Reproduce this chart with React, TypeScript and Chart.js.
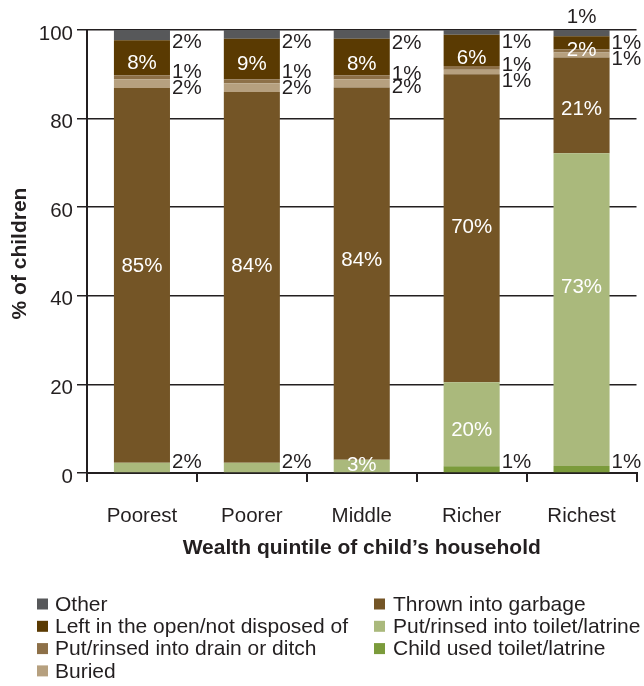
import React, { useEffect, useRef } from 'react';
import { Chart, registerables } from 'chart.js';

Chart.register(...registerables);

const FONT = '"Liberation Sans", Arial, Helvetica, sans-serif';
const DARK = '#231f20';

const categories = ['Poorest', 'Poorer', 'Middle', 'Richer', 'Richest'];
const yTicks = [0, 20, 40, 60, 80, 100];

// Series values (% of children), bottom of the stack first
const childUsed = [0, 0, 0, 1.5, 1.6];
const toilet = [2.3, 2.3, 3.0, 19.0, 70.6];
const garbage = [84.6, 83.7, 84.0, 69.5, 21.6];
const buried = [2.0, 2.0, 1.9, 1.0, 1.1];
const drain = [0.9, 0.9, 0.9, 0.9, 0.7];
const openAir = [7.9, 9.1, 8.2, 7.0, 3.0];
const other = [2.3, 2.0, 2.0, 1.1, 1.4];

// Printed value labels
const childUsedLabels = ['', '', '', '1%', '1%'];
const toiletLabels = ['2%', '2%', '3%', '20%', '73%'];
const garbageLabels = ['85%', '84%', '84%', '70%', '21%'];
const buriedLabels = ['2%', '2%', '2%', '1%', '1%'];
const drainLabels = ['1%', '1%', '1%', '1%', '1%'];
const openLabels = ['8%', '9%', '8%', '6%', '2%'];
const otherLabels = ['2%', '2%', '2%', '1%', '1%'];

type Series = {
  name: string;
  data: number[];
  labels: string[];
  color: string;
  place: string[];
  dy: number[];
};

const series: Series[] = [
  { name: 'Child used toilet/latrine', data: childUsed, labels: childUsedLabels, color: '#7b9b3b',
    place: ['r', 'r', 'r', 'r', 'r'], dy: [0, 0, 0, -6.5, -6.5] },
  { name: 'Put/rinsed into toilet/latrine', data: toilet, labels: toiletLabels, color: '#aab97c',
    place: ['r', 'r', 'in', 'in', 'in'], dy: [-5.5, -5.5, -1, 6, -22.5] },
  { name: 'Thrown into garbage', data: garbage, labels: garbageLabels, color: '#745526',
    place: ['in', 'in', 'in', 'in', 'in'], dy: [-9.5, -11.5, -13.5, -1, 4.5] },
  { name: 'Buried', data: buried, labels: buriedLabels, color: '#b6a07f',
    place: ['r', 'r', 'r', 'r', 'r'], dy: [4.5, 1, 4, 9.5, 4.5] },
  { name: 'Put/rinsed into drain or ditch', data: drain, labels: drainLabels, color: '#8d7048',
    place: ['r', 'r', 'r', 'r', 'r'], dy: [-4.5, -8.5, -3, -2.5, -8] },
  { name: 'Left in the open/not disposed of', data: openAir, labels: openLabels, color: '#5a3a02',
    place: ['in', 'in', 'in', 'in', 'in'], dy: [6, 5, 7, 7.5, 7] },
  { name: 'Other', data: other, labels: otherLabels, color: '#57585a',
    place: ['r', 'r', 'r', 'r', 't'], dy: [7.5, 8, 8.5, 10, -12.5] },
];

const legendCol1 = ['Other', 'Left in the open/not disposed of', 'Put/rinsed into drain or ditch', 'Buried'];
const legendCol2 = ['Thrown into garbage', 'Put/rinsed into toilet/latrine', 'Child used toilet/latrine'];

const labelPlugin = {
  id: 'segLabels',
  afterDatasetsDraw(chart: any) {
    const ctx = chart.ctx as CanvasRenderingContext2D;
    ctx.save();
    ctx.font = `20.5px ${FONT}`;
    ctx.textBaseline = 'middle';
    series.forEach((s, i) => {
      const meta = chart.getDatasetMeta(i);
      meta.data.forEach((el: any, j: number) => {
        const text = s.labels[j];
        if (!text) return;
        const p = el.getProps(['x', 'y', 'base', 'width'], true);
        const mid = (p.y + p.base) / 2;
        const mode = s.place[j];
        if (mode === 'in') {
          ctx.fillStyle = '#ffffff';
          ctx.textAlign = 'center';
          ctx.fillText(text, p.x, mid + s.dy[j]);
        } else if (mode === 'r') {
          ctx.fillStyle = DARK;
          ctx.textAlign = 'left';
          ctx.fillText(text, p.x + p.width / 2 + 2, mid + s.dy[j]);
        } else {
          ctx.fillStyle = DARK;
          ctx.textAlign = 'center';
          ctx.fillText(text, p.x, p.y + s.dy[j]);
        }
      });
    });
    ctx.restore();
  },
};

const decorPlugin = {
  id: 'decor',
  afterDraw(chart: any) {
    const ctx = chart.ctx as CanvasRenderingContext2D;
    const area = chart.chartArea;
    ctx.save();
    ctx.fillStyle = DARK;
    ctx.font = `bold 21px ${FONT}`;
    ctx.textAlign = 'center';
    ctx.textBaseline = 'middle';
    ctx.fillText('Wealth quintile of child\u2019s household', (area.left + area.right) / 2, 548);
    ctx.save();
    ctx.translate(20, (area.top + area.bottom) / 2 + 2);
    ctx.rotate(-Math.PI / 2);
    ctx.fillText('% of children', 0, 0);
    ctx.restore();

    // legend
    const byName: Record<string, string> = {};
    series.forEach((s) => (byName[s.name] = s.color));
    ctx.font = `21px ${FONT}`;
    ctx.textAlign = 'left';
    const rowY = (r: number) => 604 + r * 22.3;
    const drawCol = (items: string[], sx: number, tx: number) => {
      items.forEach((name, r) => {
        const cy = rowY(r);
        ctx.fillStyle = byName[name];
        ctx.fillRect(sx, cy - 5.5, 11, 11);
        ctx.fillStyle = DARK;
        ctx.fillText(name, tx, cy + 1);
      });
    };
    drawCol(legendCol1, 37, 55);
    drawCol(legendCol2, 374, 393);
    ctx.restore();
  },
};

export default function App() {
  const ref = useRef<HTMLCanvasElement>(null);
  useEffect(() => {
    if (!ref.current) return;
    const chart = new Chart(ref.current, {
      type: 'bar',
      data: {
        labels: categories,
        datasets: series.map((s) => ({
          label: s.name,
          data: s.data,
          backgroundColor: s.color,
          borderWidth: 0,
          categoryPercentage: 1,
          barPercentage: 0.51,
        })),
      },
      options: {
        responsive: false,
        animation: false,
        devicePixelRatio: 1,
        layout: { padding: { top: 30, right: 7.5, left: 0, bottom: 0 } },
        plugins: { legend: { display: false }, tooltip: { enabled: false } },
        scales: {
          x: {
            stacked: true,
            grid: { display: true, drawOnChartArea: false, drawTicks: true, tickLength: 9, tickColor: DARK, lineWidth: 2, offset: true },
            border: { display: true, color: DARK, width: 2 },
            ticks: { color: DARK, font: { family: FONT, size: 20.5 }, padding: 22, maxRotation: 0, autoSkip: false },
            afterFit: (s: any) => { s.height = 213; },
          },
          y: {
            stacked: true,
            min: 0,
            max: 100,
            afterBuildTicks: (s: any) => { s.ticks = yTicks.map((v) => ({ value: v })); },
            grid: { color: DARK, lineWidth: 1.5, tickLength: 10, tickColor: DARK },
            border: { color: DARK, width: 2 },
            ticks: { color: DARK, font: { family: FONT, size: 20.5 }, padding: 4, labelOffset: 4 },
            afterFit: (s: any) => { s.width = 87; },
          },
        },
      },
      plugins: [labelPlugin, decorPlugin],
    } as any);
    return () => chart.destroy();
  }, []);
  return (
    <div style={{ position: 'absolute', left: 0, top: 0, width: 644, height: 686, background: '#fff' }}>
      <canvas ref={ref} width={644} height={686} style={{ width: 644, height: 686, display: 'block' }} />
    </div>
  );
}
